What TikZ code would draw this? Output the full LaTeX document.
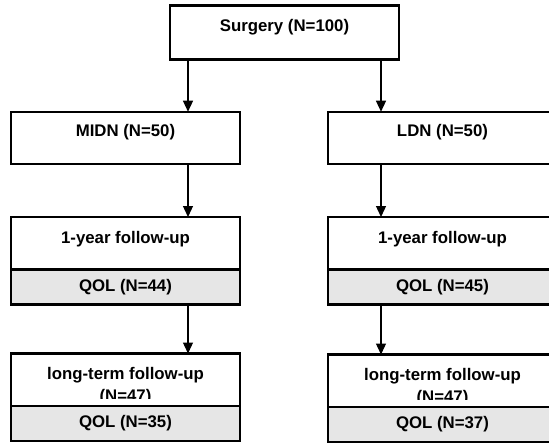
\documentclass[tikz,border=0pt]{standalone}
\usepackage{fontspec}
\setmainfont{Liberation Sans}
\usetikzlibrary{positioning,arrows.meta}
\definecolor{qolgray}{RGB}{230,230,230}
\tikzset{
  box/.style  = {draw=black, line width=2.4pt, fill=white, anchor=north west, outer sep=0pt, inner sep=0pt, minimum width=229pt, minimum height=52.5pt},
  qbox/.style = {box, fill=qolgray, minimum height=35pt, anchor=north, font=\bfseries\fontsize{16.8}{20}\selectfont},
  lbl/.style  = {anchor=north, align=center, inner sep=0pt, font=\bfseries\fontsize{16.8}{22.5}\selectfont},
  flow/.style = {-{Triangle[length=11pt,width=10pt]}, line width=1.3pt},
}

\begin{document}
\begin{tikzpicture}[x=1pt, y=-1pt]
  \useasboundingbox (0,0) rectangle (549,442);
  \clip (0,0) rectangle (549,442);
  \coordinate (colL) at (188,0);
  \coordinate (colR) at (381,0);
  % top
  \node[box, minimum height=54pt] (surg) at (170,5.3) {};
  \node[lbl] (surgT) at ([yshift=-13.5pt]surg.north) {Surgery (N=100)};
  % the two arms
  \node[box] (midn) at (11,111.7) {};
  \node[lbl] (midnT) at ([yshift=-12.5pt]midn.north) {MIDN (N=50)};
  \node[box] (ldn) at (328,111.7) {};
  \node[lbl] (ldnT) at ([yshift=-12.5pt]ldn.north) {LDN (N=50)};
  % 1-year follow-up
  \node[box] (yrL) at (11,217) {};
  \node[lbl] (yrLT) at ([yshift=-14.5pt]yrL.north) {1-year follow-up};
  \node[qbox, below=0pt of yrL] (qolYrL) {QOL (N=44)};
  \node[box] (yrR) at (328,217) {};
  \node[lbl] (yrRT) at ([yshift=-14.5pt]yrR.north) {1-year follow-up};
  \node[qbox, below=0pt of yrR] (qolYrR) {QOL (N=45)};
  % long-term follow-up
  \node[box] (ltL) at (11,353.5) {};
  \begin{scope}
    \clip (ltL.north west) rectangle ([yshift=8pt]ltL.south east);
    \node[lbl] (ltLT) at ([yshift=-13.5pt]ltL.north) {long-term follow-up\\(N=47)};
  \end{scope}
  \node[qbox, below=0pt of ltL] (qolLtL) {QOL (N=35)};
  \node[box] (ltR) at (328,354.5) {};
  \begin{scope}
    \clip (ltR.north west) rectangle ([yshift=8pt]ltR.south east);
    \node[lbl] (ltRT) at ([yshift=-13.5pt]ltR.north) {long-term follow-up\\(N=47)};
  \end{scope}
  \node[qbox, below=0pt of ltR] (qolLtR) {QOL (N=37)};
  % connectors
  \draw[flow] (surg.south -| colL) -- (midn.north -| colL);
  \draw[flow] (surg.south -| colR) -- (ldn.north -| colR);
  \draw[flow] (midn.south -| colL) -- (yrL.north -| colL);
  \draw[flow] (ldn.south -| colR) -- (yrR.north -| colR);
  \draw[flow] (qolYrL.south -| colL) -- (ltL.north -| colL);
  \draw[flow] (qolYrR.south -| colR) -- (ltR.north -| colR);
\end{tikzpicture}
\end{document}
